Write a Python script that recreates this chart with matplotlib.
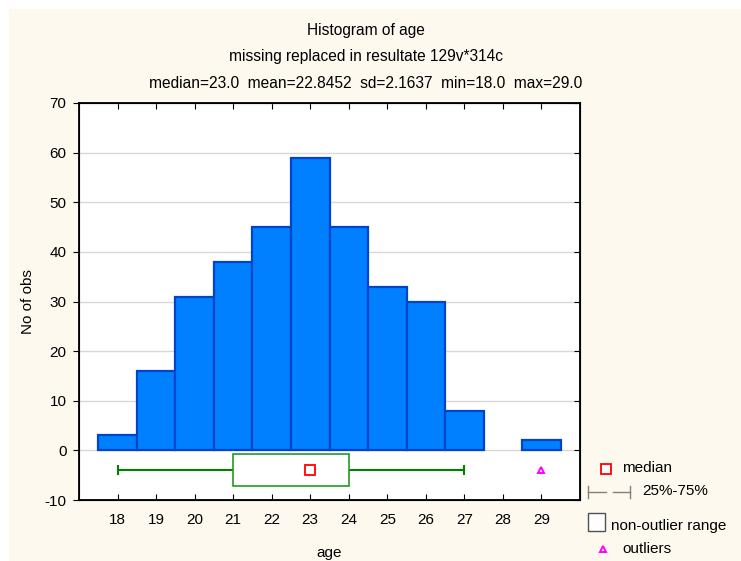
import numpy as np
import matplotlib
matplotlib.use('Agg')
import matplotlib.pyplot as plt
from matplotlib.patches import Rectangle

plt.rcParams['font.family'] = ['Liberation Sans', 'DejaVu Sans']
plt.rcParams['axes.unicode_minus'] = False

ages = [18, 19, 20, 21, 22, 23, 24, 25, 26, 27, 28, 29]
counts = [3, 16, 31, 38, 45, 59, 45, 33, 30, 8, 0, 2]
box_q1, box_q3 = 21, 24
whisk_lo, whisk_hi = 18, 27
median = 23
outliers = [29]
title_lines = ['Histogram of age',
               'missing replaced in resultate 129v*314c',
               'median=23.0  mean=22.8452  sd=2.1637  min=18.0  max=29.0']
legend_labels = ['median', '25%-75%', 'non-outlier range', 'outliers']

W, H = 741, 561
fig = plt.figure(figsize=(W / 100, H / 100), dpi=100)
fig.patch.set_facecolor('white')
fig.patches.append(Rectangle((9 / W, 0), 1, 1 - 9 / H, transform=fig.transFigure,
                             facecolor='#fdf9ee', edgecolor='none', zorder=-10))

ax = fig.add_axes([79 / W, 1 - 500 / H, (580 - 79) / W, (500 - 103) / H])
ax.set_facecolor('white')

edges = ['#0044cc' if c > 0 else 'none' for c in counts]
ax.bar(ages, counts, width=1.0, color='#0080ff', edgecolor=edges, linewidth=1.6, zorder=3)

# box plot under the histogram
yb = -4
green = '#008000'
ax.plot([whisk_lo, box_q1], [yb, yb], color=green, lw=1.5, zorder=3)
ax.plot([box_q3, whisk_hi], [yb, yb], color=green, lw=1.5, zorder=3)
for xw in (whisk_lo, whisk_hi):
    ax.plot([xw, xw], [yb - 0.8, yb + 0.8], color=green, lw=1.5, zorder=3)
ax.add_patch(Rectangle((box_q1, -7.2), box_q3 - box_q1, 6.4, facecolor='white',
                       edgecolor='#229922', lw=1.2, zorder=3))
ax.plot([median], [yb], marker='s', ms=6.5, mfc='white', mec='red', mew=1.3, ls='none', zorder=4)
ax.plot(outliers, [yb] * len(outliers), marker='^', ms=5, mfc='white', mec='magenta', mew=1.4,
        ls='none', zorder=4)

ax.set_xlim(17, 30.0)
ax.set_ylim(-10, 70)
ax.set_xticks(ages)
ax.set_yticks(np.arange(-10, 71, 10))
ax.tick_params(axis='x', direction='in', top=True, labelsize=11, length=4, pad=9)
ax.tick_params(axis='y', direction='out', labelsize=11, length=4, pad=5)
ax.yaxis.grid(True, color='#d8d8d8', lw=1, zorder=0)
for s in ax.spines.values():
    s.set_linewidth(1.3)
ax.set_xlabel('age', fontsize=11, labelpad=14)
ax.set_ylabel('No of obs', fontsize=11)
ax.yaxis.set_label_coords((35 - 79) / (580 - 79), 0.5)

# inward ticks on the right spine
axr = ax.twinx()
axr.set_ylim(ax.get_ylim())
axr.set_yticks(ax.get_yticks())
axr.tick_params(axis='y', direction='in', length=4, labelright=False)

for i, t in enumerate(title_lines):
    fig.text(366 / W, 1 - (30 + 26.5 * i) / H, t, ha='center', va='center', fontsize=11.2)

# legend drawn in pixel coordinates on an overlay
lg = fig.add_axes([0, 0, 1, 1], facecolor='none')
lg.set_xlim(0, W)
lg.set_ylim(H, 0)
lg.axis('off')
lg.plot([606], [469], marker='s', ms=6.5, mfc='white', mec='red', mew=1.3, ls='none')
lg.text(622, 468, legend_labels[0], va='center', fontsize=11)
gray = '#808080'
lg.plot([588, 588], [486, 498], color=gray, lw=1)
lg.plot([630, 630], [486, 498], color=gray, lw=1)
lg.plot([588, 606], [492, 492], color=gray, lw=1)
lg.plot([613, 630], [492, 492], color=gray, lw=1)
lg.text(642, 491, legend_labels[1], va='center', fontsize=11)
lg.add_patch(Rectangle((588, 513), 17, 18, facecolor='white', edgecolor='#505050', lw=1))
lg.text(611, 526, legend_labels[2], va='center', fontsize=11)
lg.plot([603], [549], marker='^', ms=5, mfc='white', mec='magenta', mew=1.4, ls='none')
lg.text(622, 549, legend_labels[3], va='center', fontsize=11)

fig.savefig('out.png', dpi=100, facecolor=fig.get_facecolor())
